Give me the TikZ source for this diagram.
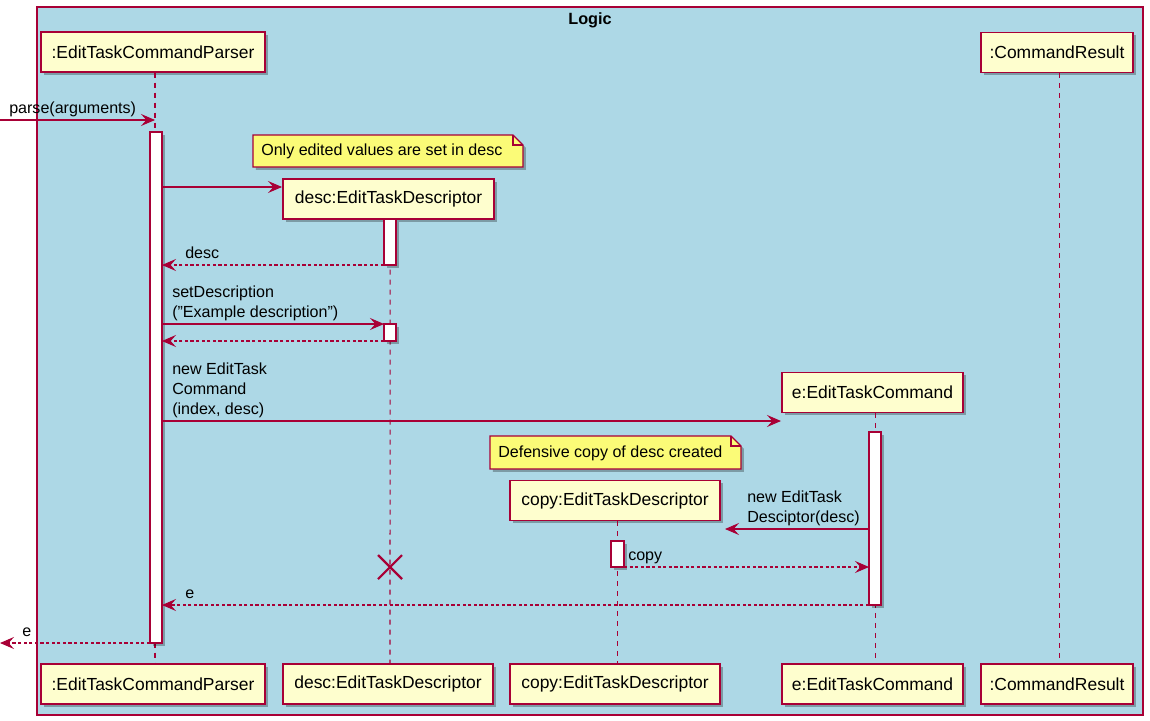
\documentclass[tikz,border=0pt]{standalone}
\usepackage{fontspec}
\setmainfont{Liberation Sans}
\usetikzlibrary{arrows.meta,shadows}
\definecolor{pu}{HTML}{A80036}
\definecolor{pbox}{HTML}{FEFECE}
\definecolor{pnote}{HTML}{FBFB77}
\definecolor{pbg}{HTML}{ADD8E6}
\begin{document}
\begin{tikzpicture}[x=0.75pt,y=-0.75pt,
  shad/.style={drop shadow={shadow xshift=2.2pt,shadow yshift=-2.2pt,opacity=0.28,fill=black}},
  part/.style={draw=pu,line width=1.1pt,fill=pbox,minimum height=30pt,inner sep=0pt,
    font=\fontsize{13.1}{15.7}\selectfont,shad},
  life/.style={draw=pu,line width=0.8pt,dash pattern=on 3.75pt off 3.75pt},
  actbar/.style={draw=pu,line width=0.8pt,fill=white,shad},
  msg/.style={draw=pu,line width=0.8pt,-{Stealth[length=10.5pt,width=9pt,inset=4pt]}},
  ret/.style={msg,dash pattern=on 2.4pt off 1.8pt},
  lbl/.style={anchor=south west,inner sep=0pt,text depth=2.5pt,align=left,
    font=\fontsize{12.05}{15}\selectfont},
  notebox/.style={draw=pu,line width=0.8pt,fill=pnote,shad},
  notetxt/.style={anchor=west,inner sep=0pt,font=\fontsize{12.05}{15}\selectfont}
]
\useasboundingbox (0,0) rectangle (1150,721);
% frame
\draw[draw=pu,line width=0.8pt,fill=pbg] (37,7) rectangle (1143,715);
\node[font=\bfseries\fontsize{12.2}{14}\selectfont] (title) at (590,20) {Logic};

% participants
\node[part,minimum width=168pt] (Pt) at (153,52) {:EditTaskCommandParser};
\node[part,minimum width=114pt] (Rt) at (1057,52.5) {:CommandResult};
\node[part,minimum width=158.25pt] (Dt) at (388.5,199) {desc:EditTaskDescriptor};
\node[part,minimum width=135.75pt] (Et) at (872.5,392.5) {e:EditTaskCommand};
\node[part,minimum width=157.5pt] (Ct) at (615,500.5) {copy:EditTaskDescriptor};

\node[part,minimum width=168pt] (Pb) at (153,684) {:EditTaskCommandParser};
\node[part,minimum width=157.5pt] (Db) at (388,684) {desc:EditTaskDescriptor};
\node[part,minimum width=157.5pt] (Cb) at (615,684) {copy:EditTaskDescriptor};
\node[part,minimum width=135.75pt] (Eb) at (872.5,684) {e:EditTaskCommand};
\node[part,minimum width=114pt] (Rb) at (1057,684) {:CommandResult};

% lifelines
\draw[life] ([xshift=1.5pt]Pt.south) -- ([xshift=1.5pt]Pb.north);
\draw[life] ([xshift=1.2pt]Dt.south) -- ([xshift=1.5pt]Db.north);
\draw[life] ([xshift=2.2pt]Ct.south) -- ([xshift=2.2pt]Cb.north);
\draw[life] ([xshift=1.9pt]Et.south) -- ([xshift=1.9pt]Eb.north);
\draw[life] ([xshift=2.2pt]Rt.south) -- ([xshift=2.2pt]Rb.north);

% activations
\draw[actbar] (150,132) rectangle (162,643);
\draw[actbar] (384,219) rectangle (396,265);
\draw[actbar] (384,324) rectangle (396,341);
\draw[actbar] (869,432) rectangle (881,605);
\draw[actbar] (611,541) rectangle (624,567);

% notes
\draw[notebox] (253,135) -- (513,135) -- (523,145) -- (523,167) -- (253,167) -- cycle;
\draw[draw=pu,line width=0.8pt] (513,135) -- (513,145) -- (523,145);
\node[notetxt] (n1) at (261,151.5) {Only edited values are set in desc};
\draw[notebox] (490,436) -- (731,436) -- (741,446) -- (741,469) -- (490,469) -- cycle;
\draw[draw=pu,line width=0.8pt] (731,436) -- (731,446) -- (741,446);
\node[notetxt] (n2) at (498,453) {Defensive copy of desc created};

% coordinates
\coordinate (in1) at (0,120);
\coordinate (p1) at (155,120);
\coordinate (p2) at (162,187);
\coordinate (d2) at (282,187);
\coordinate (d3) at (384,265);
\coordinate (p3) at (162,265);
\coordinate (p4) at (162,324);
\coordinate (d4) at (384,324);
\coordinate (d5) at (384,341);
\coordinate (p5) at (162,341);
\coordinate (p6) at (162,421);
\coordinate (e6) at (781,421);
\coordinate (e7) at (869,529);
\coordinate (c7) at (725,529);
\coordinate (c8) at (624,567);
\coordinate (e8) at (869,567);
\coordinate (e9) at (869,605);
\coordinate (p9) at (162,605);
\coordinate (p10) at (150,643);
\coordinate (out10) at (0,643);

% messages
\draw[msg] (in1) -- (p1);
\node[lbl] (l1) at (9,117) {parse(arguments)};
\draw[msg] (p2) -- (d2);
\draw[ret] (d3) -- (p3);
\node[lbl] (l3) at (185,262) {desc};
\draw[msg] (p4) -- (d4);
\node[lbl] (l4) at (172,321) {setDescription\\(\symbol{34}Example description\symbol{34})};
\draw[ret] (d5) -- (p5);
\draw[msg] (p6) -- (e6);
\node[lbl] (l6) at (172,418) {new EditTask\\Command\\(index, desc)};
\draw[msg] (e7) -- (c7);
\node[lbl] (l7) at (747,526) {new EditTask\\Desciptor(desc)};
\draw[ret] (c8) -- (e8);
\node[lbl] (l8) at (628,564) {copy};
\draw[ret] (e9) -- (p9);
\node[lbl] (l9) at (185,602) {e};
\draw[ret] (p10) -- (out10);
\node[lbl] (l10) at (22,640) {e};

% destroy
\draw[draw=pu,line width=1.6pt] (378,555) -- (402,579) (378,579) -- (402,555);
\end{tikzpicture}
\end{document}
